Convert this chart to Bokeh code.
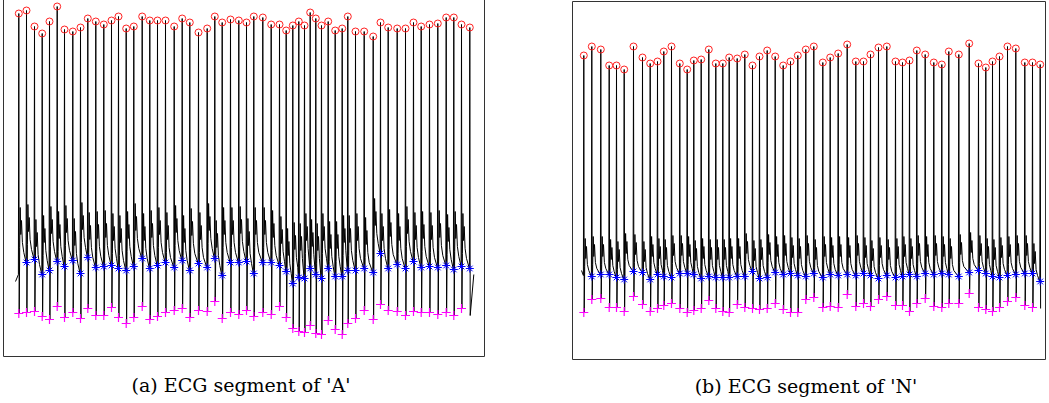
from bokeh.plotting import figure
from bokeh.layouts import row
from bokeh.models import Range1d
from bokeh.embed import file_html
from bokeh.resources import INLINE

# ---------------- Panel (a): ECG segment of 'A' ----------------
# time of each R peak (s)
a_r_time = [1.53, 2.30, 3.10, 3.87, 4.60, 5.37, 6.10, 6.93, 7.70, 8.43,
            9.23, 10.03, 10.80, 11.50, 12.27, 13.03, 13.87, 14.63, 15.40, 16.20,
            17.07, 17.87, 18.63, 19.50, 20.37, 21.13, 21.87, 22.70, 23.53, 24.30,
            25.03, 25.93, 26.77, 27.60, 28.27, 28.93, 29.53, 30.10, 30.67, 31.23,
            31.80, 32.47, 33.17, 33.87, 34.43, 35.20, 36.07, 36.97, 37.70, 38.47,
            39.37, 40.20, 41.00, 41.77, 42.60, 43.43, 44.27, 45.03, 45.80, 46.63]
# R peak amplitude (mV)
a_r_amp = [2.51, 2.54, 2.38, 2.31, 2.43, 2.58, 2.35, 2.33, 2.37, 2.46,
           2.43, 2.40, 2.44, 2.48, 2.36, 2.38, 2.48, 2.44, 2.44, 2.44,
           2.38, 2.46, 2.42, 2.32, 2.36, 2.48, 2.42, 2.45, 2.44, 2.42,
           2.48, 2.47, 2.40, 2.40, 2.34, 2.39, 2.43, 2.39, 2.52, 2.46,
           2.39, 2.43, 2.34, 2.36, 2.48, 2.33, 2.33, 2.28, 2.42, 2.37,
           2.36, 2.36, 2.42, 2.38, 2.40, 2.41, 2.47, 2.47, 2.40, 2.37]
# Q point amplitude (first beat not marked)
a_q_amp = [-0.10, 0.02, 0.05, -0.10, -0.06, 0.03, -0.02, 0.04, -0.09, 0.07,
           -0.03, -0.02, -0.01, -0.04, -0.06, -0.02, 0.06, -0.04, -0.01, 0.02,
           -0.03, 0.04, -0.06, 0.01, -0.03, 0.06, -0.11, 0.02, 0.02, 0.03,
           -0.09, 0.02, 0.02, -0.01, -0.07, -0.19, -0.13, -0.14, -0.04, -0.10,
           -0.14, -0.04, -0.12, -0.12, -0.06, -0.06, -0.04, -0.08, 0.11, -0.04,
           0.00, -0.04, 0.03, -0.03, -0.02, -0.03, -0.01, -0.05, -0.02, -0.04]
# S point amplitude (last beat not marked)
a_s_amp = [-0.49, -0.48, -0.47, -0.52, -0.55, -0.42, -0.53, -0.48, -0.54, -0.44,
           -0.51, -0.51, -0.43, -0.53, -0.59, -0.53, -0.42, -0.55, -0.52, -0.48,
           -0.46, -0.44, -0.53, -0.46, -0.47, -0.37, -0.54, -0.48, -0.50, -0.46,
           -0.52, -0.48, -0.50, -0.42, -0.53, -0.64, -0.67, -0.68, -0.61, -0.69,
           -0.70, -0.56, -0.65, -0.70, -0.59, -0.54, -0.46, -0.55, -0.40, -0.46,
           -0.47, -0.51, -0.47, -0.48, -0.48, -0.50, -0.48, -0.51, -0.44, -0.51]
a_start = (1.20, -0.17)
a_end = (47.03, -0.10)
# beat shape after the S wave: offset from R (s), level above next Q (mV)
a_shape_t = [0.09, 0.14, 0.20, 0.27, 0.36, 0.50]
a_shape_a = [0.15, 0.55, 0.28, 0.42, 0.20, 0.10]

# ---------------- Panel (b): ECG segment of 'N' ----------------
b_r_time = [1.13, 1.93, 2.83, 3.67, 4.40, 5.17, 6.10, 7.00, 7.77, 8.50,
            9.13, 9.90, 10.73, 11.47, 12.13, 12.87, 13.63, 14.33, 15.03, 15.67,
            16.47, 17.23, 18.00, 18.70, 19.47, 20.27, 21.07, 21.80, 22.53, 23.33,
            24.13, 25.03, 25.77, 26.57, 27.47, 28.33, 29.10, 29.80, 30.60, 31.43,
            32.30, 33.00, 33.70, 34.43, 35.27, 36.13, 36.93, 37.63, 38.63, 39.67,
            40.60, 41.33, 42.00, 42.70, 43.50, 44.33, 45.23, 46.00, 46.77]
b_r_amp = [2.20, 2.29, 2.26, 2.10, 2.10, 2.06, 2.29, 2.18, 2.12, 2.14,
           2.24, 2.29, 2.12, 2.06, 2.15, 2.16, 2.26, 2.12, 2.12, 2.18,
           2.17, 2.21, 2.10, 2.19, 2.25, 2.19, 2.10, 2.14, 2.20, 2.26,
           2.29, 2.13, 2.18, 2.22, 2.31, 2.14, 2.14, 2.21, 2.28, 2.29,
           2.14, 2.13, 2.15, 2.25, 2.21, 2.13, 2.11, 2.24, 2.21, 2.32,
           2.12, 2.08, 2.14, 2.19, 2.29, 2.27, 2.13, 2.13, 2.11]
b_q_amp = [0.00, -0.01, 0.01, 0.01, -0.02, -0.04, 0.04, 0.03, -0.04, 0.01,
           -0.01, -0.02, 0.02, 0.02, 0.01, -0.03, -0.01, -0.02, -0.02, -0.02,
           -0.01, -0.01, 0.04, -0.03, -0.02, 0.03, 0.01, 0.02, 0.00, -0.01,
           0.02, -0.02, 0.01, 0.00, 0.01, 0.00, 0.02, 0.00, -0.03, 0.00,
           -0.02, -0.01, 0.01, -0.01, 0.02, 0.01, 0.02, 0.01, -0.01, 0.03,
           0.05, 0.02, -0.01, -0.02, 0.00, 0.01, 0.02, 0.02, -0.06]
b_s_amp = [-0.37, -0.24, -0.23, -0.32, -0.32, -0.36, -0.21, -0.29, -0.36, -0.33,
           -0.30, -0.28, -0.33, -0.37, -0.35, -0.33, -0.25, -0.33, -0.36, -0.37,
           -0.29, -0.32, -0.33, -0.34, -0.33, -0.28, -0.34, -0.37, -0.37, -0.24,
           -0.22, -0.32, -0.31, -0.32, -0.19, -0.31, -0.28, -0.31, -0.24, -0.21,
           -0.30, -0.30, -0.36, -0.28, -0.23, -0.31, -0.32, -0.28, -0.28, -0.18,
           -0.32, -0.34, -0.36, -0.32, -0.26, -0.22, -0.30, -0.32, -0.33]
b_start = (0.90, 0.05)
b_end = None
b_shape_t = [0.09, 0.14, 0.20, 0.27, 0.36, 0.50]
b_shape_a = [0.10, 0.38, 0.18, 0.30, 0.12, 0.06]

captions = ["(a)  ECG segment of 'A'", "(b)  ECG segment of 'N'"]


def ecg_trace(t_r, r, q, s, start, end, shape_t, shape_a):
    xs, ys = [start[0]], [start[1]]
    n = len(t_r)
    for i in range(n):
        xs += [t_r[i] - 0.04, t_r[i], t_r[i] + 0.04]
        ys += [q[i], r[i], s[i]]
        if i < n - 1:
            gap = t_r[i + 1] - t_r[i]
            base = q[i + 1]
            for dt, da in zip(shape_t, shape_a):
                if dt < gap - 0.08:
                    xs.append(t_r[i] + dt)
                    ys.append(base + da)
    if end is not None:
        xs.append(end[0])
        ys.append(end[1])
    return xs, ys


def panel(caption, t_r, r, q, s, start, end, shape_t, shape_a,
          xr, yr, fw, fh, margin, standoff):
    p = figure(frame_width=fw, frame_height=fh, output_backend="svg",
               toolbar_location=None, x_range=Range1d(*xr), y_range=Range1d(*yr),
               x_axis_location=None, y_axis_location=None,
               title=caption, title_location="below",
               min_border_left=1, min_border_right=1, min_border_top=1,
               min_border_bottom=0, margin=margin)
    p.grid.visible = False
    p.outline_line_color = "#333333"
    p.outline_line_width = 1
    p.title.align = "center"
    p.title.text_font = "DejaVu Serif"
    p.title.text_font_size = "19px"
    p.title.text_font_style = "normal"
    p.title.text_color = "black"
    p.title.standoff = standoff

    xs, ys = ecg_trace(t_r, r, q, s, start, end, shape_t, shape_a)
    p.line(xs, ys, line_color="black", line_width=1)
    p.scatter(t_r, r, marker="circle", size=7, fill_color=None,
              line_color="#ff2020", line_width=1)
    p.scatter(t_r[1:], q[1:], marker="asterisk", size=8,
              line_color="#0000ff", line_width=1)
    p.scatter(t_r[:-1], s[:-1], marker="cross", size=9,
              line_color="#ff00ff", line_width=1.2)
    return p


pa = panel(captions[0], a_r_time, a_r_amp, a_q_amp, a_s_amp, a_start, a_end,
           a_shape_t, a_shape_a, (0, 48.1), (-0.92, 2.66), 481, 358,
           (-3, 0, 0, 2), 30)
pb = panel(captions[1], b_r_time, b_r_amp, b_q_amp, b_s_amp, b_start, b_end,
           b_shape_t, b_shape_a, (0, 47.3), (-0.84, 2.74), 473, 358,
           (0, 0, 0, 86), 27)

layout = row(pa, pb)
open("out.html", "w").write(file_html(layout, INLINE))
